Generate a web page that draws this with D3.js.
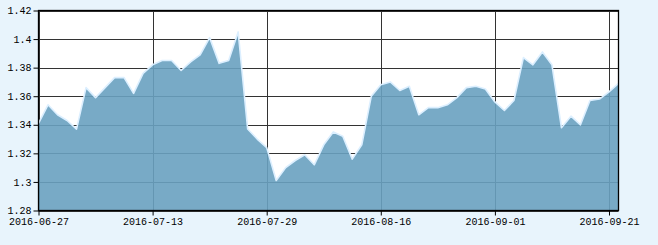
<!DOCTYPE html>
<html><head><meta charset="utf-8">
<script src="https://cdn.jsdelivr.net/npm/d3@7/dist/d3.min.js"></script>
<style>
html,body{margin:0;padding:0;background:#e8f4fc;}
svg{display:block;}
text{font-family:"Liberation Mono","DejaVu Sans Mono",monospace;font-size:10px;fill:#000;}
</style></head><body>
<svg id="c" width="658" height="245"></svg>
<script>
const dates = ["2016-06-27","2016-06-28","2016-06-29","2016-06-30","2016-07-01",
"2016-07-04","2016-07-05","2016-07-06","2016-07-07","2016-07-08",
"2016-07-11","2016-07-12","2016-07-13","2016-07-14","2016-07-15",
"2016-07-18","2016-07-19","2016-07-20","2016-07-21","2016-07-22",
"2016-07-25","2016-07-26","2016-07-27","2016-07-28","2016-07-29",
"2016-08-01","2016-08-02","2016-08-03","2016-08-04","2016-08-05",
"2016-08-08","2016-08-09","2016-08-10","2016-08-11","2016-08-12",
"2016-08-15","2016-08-16","2016-08-17","2016-08-18","2016-08-19",
"2016-08-22","2016-08-23","2016-08-24","2016-08-25","2016-08-26",
"2016-08-29","2016-08-30","2016-08-31","2016-09-01","2016-09-02",
"2016-09-05","2016-09-06","2016-09-07","2016-09-08","2016-09-09",
"2016-09-12","2016-09-13","2016-09-14","2016-09-19","2016-09-20",
"2016-09-21","2016-09-22"];
const values = [1.341,1.354,1.347,1.343,1.337,1.366,1.359,1.366,1.373,1.373,
1.362,1.376,1.382,1.385,1.385,1.378,1.384,1.389,1.401,1.383,
1.385,1.405,1.337,1.330,1.324,1.301,1.310,1.315,1.319,1.312,
1.326,1.335,1.332,1.316,1.326,1.360,1.368,1.370,1.364,1.367,
1.347,1.352,1.352,1.354,1.359,1.366,1.367,1.365,1.356,1.350,
1.357,1.387,1.382,1.391,1.382,1.338,1.346,1.340,1.357,1.358,
1.363,1.369];
const xTickLabels = ["2016-06-27","2016-07-13","2016-07-29","2016-08-16","2016-09-01","2016-09-21"];
const yTicks = [1.28,1.30,1.32,1.34,1.36,1.38,1.40,1.42];

const L=38.5,R=618.5,T=10.5,B=210.5;
const svg=d3.select("#c");
const x=d3.scalePoint().domain(dates).range([L,R]);
const y=d3.scaleLinear().domain([1.28,1.42]).range([B,T]);

svg.append("rect").attr("x",L).attr("y",T).attr("width",R-L).attr("height",B-T).attr("fill","#fff");

// grid
const g=svg.append("g").attr("stroke","#333").attr("stroke-width",1);
yTicks.forEach(v=>g.append("line").attr("x1",L).attr("x2",R).attr("y1",Math.round(y(v))+0.5).attr("y2",Math.round(y(v))+0.5));
xTickLabels.forEach(d=>g.append("line").attr("x1",Math.round(x(d))+0.5).attr("x2",Math.round(x(d))+0.5).attr("y1",T).attr("y2",B));

// area
const data=dates.map((d,i)=>({d,v:values[i]}));
svg.append("path").datum(data)
 .attr("d",d3.area().x(p=>x(p.d)).y0(B).y1(p=>y(p.v)))
 .attr("fill","#69a1c0").attr("fill-opacity",0.9);
svg.append("path").datum(data)
 .attr("d",d3.line().x(p=>x(p.d)).y(p=>y(p.v)))
 .attr("fill","none").attr("stroke","#dcefff").attr("stroke-width",1.6).attr("stroke-linejoin","round");

// frame
svg.append("rect").attr("x",L).attr("y",T).attr("width",R-L).attr("height",B-T)
 .attr("fill","none").attr("stroke","#000").attr("stroke-width",1.3);

// axes
const xa=d3.axisBottom(x).tickValues(xTickLabels).tickSize(5).tickPadding(2);
const gx=svg.append("g").attr("transform",`translate(0,${B})`).call(xa);
gx.select(".domain").remove();
gx.selectAll("line").attr("stroke","#000");
const ya=d3.axisLeft(y).tickValues(yTicks).tickSize(5).tickPadding(2).tickFormat(d=>String(+d.toFixed(2)));
const gy=svg.append("g").attr("transform",`translate(${L},0)`).call(ya);
gy.select(".domain").remove();
gy.selectAll("line").attr("stroke","#000");
svg.selectAll(".tick text").attr("font-family",null).attr("font-size",null);
</script></body></html>
